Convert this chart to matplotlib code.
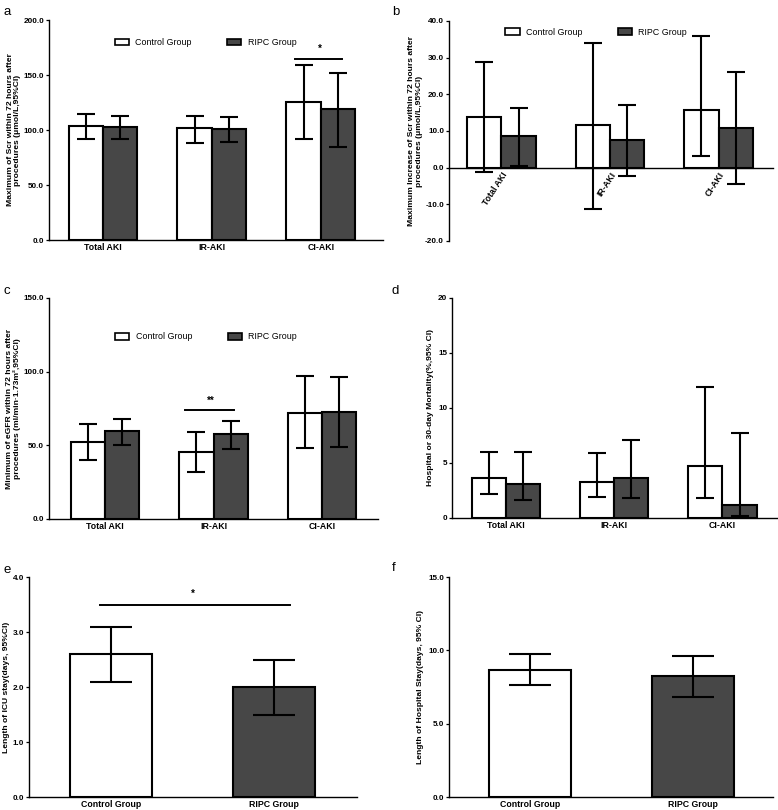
import matplotlib
matplotlib.use("Agg")
import matplotlib.pyplot as plt
from matplotlib.patches import Patch
import numpy as np

plt.rcParams["font.family"] = ["Liberation Sans", "DejaVu Sans"]

groups = ["Total AKI", "IR-AKI", "CI-AKI"]
arms = ["Control Group", "RIPC Group"]

# a - maximum Scr within 72 h (umol/L)
scr_ctrl = [103.6, 101.5, 125.8]
scr_ctrl_lo = [92.0, 88.5, 92.0]
scr_ctrl_hi = [114.5, 112.7, 158.8]
scr_ripc = [103.0, 100.6, 118.8]
scr_ripc_lo = [91.5, 89.4, 84.5]
scr_ripc_hi = [112.7, 111.5, 152.0]

# b - maximum increase of Scr
inc_ctrl = [13.8, 11.5, 15.6]
inc_ctrl_lo = [-1.3, -11.2, 3.1]
inc_ctrl_hi = [28.8, 34.0, 35.8]
inc_ripc = [8.5, 7.5, 10.9]
inc_ripc_lo = [0.5, -2.2, -4.5]
inc_ripc_hi = [16.4, 17.0, 26.1]

# c - minimum eGFR
egfr_ctrl = [52.2, 45.6, 72.2]
egfr_ctrl_lo = [40.0, 32.0, 48.4]
egfr_ctrl_hi = [64.5, 59.2, 97.1]
egfr_ripc = [59.9, 57.5, 72.9]
egfr_ripc_lo = [50.0, 47.4, 48.6]
egfr_ripc_hi = [67.9, 66.5, 96.7]

# d - hospital or 30-day mortality (%)
mort_ctrl = [3.6, 3.3, 4.7]
mort_ctrl_lo = [2.2, 1.9, 1.8]
mort_ctrl_hi = [5.97, 5.9, 11.9]
mort_ripc = [3.1, 3.6, 1.2]
mort_ripc_lo = [1.6, 1.8, 0.2]
mort_ripc_hi = [6.0, 7.1, 7.7]

# e - ICU stay, f - hospital stay (days)
icu = [2.6, 2.0]
icu_lo = [2.1, 1.5]
icu_hi = [3.1, 2.5]
hosp = [8.66, 8.25]
hosp_lo = [7.64, 6.84]
hosp_hi = [9.73, 9.62]

WHITE = "white"
DARK = "#474747"
TICK_FS = 5.9


def style_axis(ax):
    for s in ["top", "right"]:
        ax.spines[s].set_visible(False)
    for s in ["left", "bottom"]:
        ax.spines[s].set_linewidth(1.0)
    ax.tick_params(axis="y", direction="out", length=2.5, width=0.9, labelsize=TICK_FS, pad=1)
    ax.tick_params(axis="x", length=0, labelsize=TICK_FS + 0.4, pad=2)
    for lab in ax.get_xticklabels() + ax.get_yticklabels():
        lab.set_fontweight("bold")


def errs(mean, lo, hi):
    mean, lo, hi = map(np.asarray, (mean, lo, hi))
    return [mean - lo, hi - mean]


def grouped(ax, c, clo, chi, r, rlo, rhi, w=0.316, cap=6.5):
    x = np.arange(len(groups))
    kw = dict(edgecolor="black", linewidth=1.5, zorder=2)
    ekw = dict(fmt="none", ecolor="black", elinewidth=1.5, capsize=cap, capthick=1.5, zorder=3)
    ax.bar(x - w / 2, c, w, color=WHITE, **kw)
    ax.bar(x + w / 2, r, w, color=DARK, **kw)
    ax.errorbar(x - w / 2, c, yerr=errs(c, clo, chi), **ekw)
    ax.errorbar(x + w / 2, r, yerr=errs(r, rlo, rhi), **ekw)
    ax.set_xticks(x)
    ax.set_xticklabels(groups)


def legend(ax, anchor):
    handles = [Patch(facecolor=WHITE, edgecolor="black", linewidth=1.2),
               Patch(facecolor=DARK, edgecolor="black", linewidth=1.2)]
    ax.legend(handles, arms, loc="upper left", bbox_to_anchor=anchor, ncol=2, frameon=False,
              fontsize=6.4, handlelength=1.6, handleheight=0.75, columnspacing=4.0,
              handletextpad=0.7, borderaxespad=0)


def ylab(ax, text, pad=1.5):
    ax.set_ylabel(text, fontsize=TICK_FS + 0.2, fontweight="bold", labelpad=pad, linespacing=1.15)


fig = plt.figure(figsize=(7.78, 8.10), dpi=100)

# a
ax = fig.add_axes([0.063, 0.7037, 0.429, 0.2716])
grouped(ax, scr_ctrl, scr_ctrl_lo, scr_ctrl_hi, scr_ripc, scr_ripc_lo, scr_ripc_hi)
ax.set_ylim(0, 200)
ax.set_xlim(-0.495, 2.57)
ax.set_yticks([0, 50, 100, 150, 200])
ax.set_yticklabels([f"{v:.1f}" for v in [0, 50, 100, 150, 200]])
ylab(ax, "Maximum of Scr within 72 hours after\nprocedures (μmol/L,95%CI)")
ax.plot([1.76, 2.2], [165, 165], color="black", lw=1.4)
ax.text(1.99, 169, "*", ha="center", va="bottom", fontsize=7, fontweight="bold")
legend(ax, (0.186, 0.935))
style_axis(ax)

# b
ax = fig.add_axes([0.577, 0.7025, 0.4165, 0.2716])
grouped(ax, inc_ctrl, inc_ctrl_lo, inc_ctrl_hi, inc_ripc, inc_ripc_lo, inc_ripc_hi)
ax.set_ylim(-20, 40)
ax.set_xlim(-0.484, 2.5)
ax.set_yticks([-20, -10, 0, 10, 20, 30, 40])
ax.set_yticklabels([f"{v:.1f}" for v in [-20, -10, 0, 10, 20, 30, 40]])
ax.spines["bottom"].set_position(("data", 0))
ylab(ax, "Maximum Increase of Scr within 72 hours after\nprocedures (μmol/L,95%CI)")
legend(ax, (0.163, 0.985))
style_axis(ax)
for lab in ax.get_xticklabels():
    lab.set_rotation(57)
    lab.set_ha("right")
    lab.set_va("top")
    lab.set_rotation_mode("anchor")

# c
ax = fig.add_axes([0.063, 0.3593, 0.423, 0.2728])
grouped(ax, egfr_ctrl, egfr_ctrl_lo, egfr_ctrl_hi, egfr_ripc, egfr_ripc_lo, egfr_ripc_hi)
ax.set_ylim(0, 150)
ax.set_xlim(-0.516, 2.516)
ax.set_yticks([0, 50, 100, 150])
ax.set_yticklabels([f"{v:.1f}" for v in [0, 50, 100, 150]])
ylab(ax, "Minimum of eGFR within 72 hours after\nprocedures (ml/min·1.73m²,95%CI)")
ax.plot([0.737, 1.189], [74, 74], color="black", lw=1.4)
ax.text(0.97, 76.5, "**", ha="center", va="bottom", fontsize=7, fontweight="bold")
legend(ax, (0.19, 0.86))
style_axis(ax)

# d
ax = fig.add_axes([0.581, 0.3605, 0.418, 0.272])
grouped(ax, mort_ctrl, mort_ctrl_lo, mort_ctrl_hi, mort_ripc, mort_ripc_lo, mort_ripc_hi, w=0.314)
ax.set_ylim(0, 20)
ax.set_xlim(-0.496, 2.505)
ax.set_yticks([0, 5, 10, 15, 20])
ax.set_yticklabels(["0", "5", "10", "15", "20"])
ylab(ax, "Hospital or 30-day Mortality(%,95% CI)", pad=3)
style_axis(ax)

# e
ax = fig.add_axes([0.0373, 0.016, 0.4216, 0.2716])
x2 = np.arange(len(arms))
ax.bar(x2, icu, 0.503, color=[WHITE, DARK], edgecolor="black", linewidth=1.5, zorder=2)
ax.errorbar(x2, icu, yerr=errs(icu, icu_lo, icu_hi), fmt="none", ecolor="black",
            elinewidth=1.5, capsize=15, capthick=1.5, zorder=3)
ax.set_xticks(x2)
ax.set_xticklabels(arms)
ax.set_ylim(0, 4)
ax.set_xlim(-0.503, 1.51)
ax.set_yticks([0, 1, 2, 3, 4])
ax.set_yticklabels([f"{v:.1f}" for v in [0, 1, 2, 3, 4]])
ylab(ax, "Length of ICU stay(days, 95%CI)", pad=2)
ax.plot([-0.067, 1.098], [3.5, 3.5], color="black", lw=1.4)
ax.text(0.5, 3.6, "*", ha="center", va="bottom", fontsize=7, fontweight="bold")
style_axis(ax)

# f
ax = fig.add_axes([0.577, 0.016, 0.4165, 0.2716])
ax.bar(x2, hosp, 0.503, color=[WHITE, DARK], edgecolor="black", linewidth=1.5, zorder=2)
ax.errorbar(x2, hosp, yerr=errs(hosp, hosp_lo, hosp_hi), fmt="none", ecolor="black",
            elinewidth=1.5, capsize=15, capthick=1.5, zorder=3)
ax.set_xticks(x2)
ax.set_xticklabels(arms)
ax.set_ylim(0, 15)
ax.set_xlim(-0.497, 1.49)
ax.set_yticks([0, 5, 10, 15])
ax.set_yticklabels([f"{v:.1f}" for v in [0, 5, 10, 15]])
ylab(ax, "Length of Hospital Stay(days, 95% CI)", pad=3)
style_axis(ax)

# panel letters
for lbl, (px, py) in zip("abcdef", [(3, 12), (392, 12), (3, 291), (392, 291), (3, 570), (392, 568)]):
    fig.text(px / 778, 1 - py / 810, lbl, fontsize=9.5, va="center", ha="left")

fig.savefig("out.png", dpi=100)
